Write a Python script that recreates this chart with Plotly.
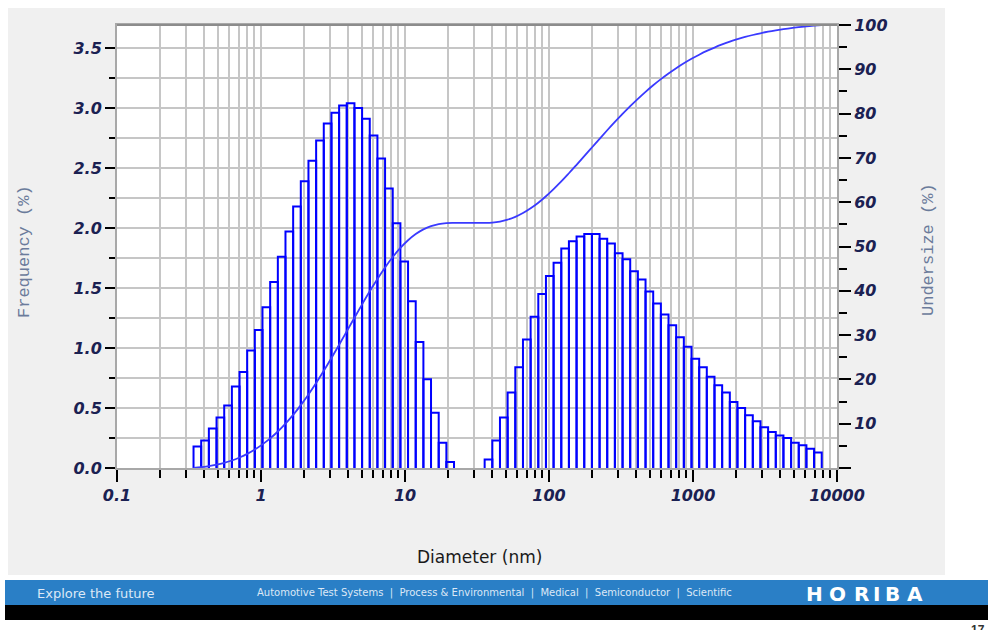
import plotly.graph_objects as go

# ---------------- data ----------------
channel_edges_nm = [
    0.340, 0.3843, 0.4345, 0.4912, 0.5553, 0.6277, 0.7096, 0.8017, 0.9062, 1.024,
    1.158, 1.309, 1.479, 1.672, 1.890, 2.136, 2.415, 2.729, 3.085, 3.487,
    3.941, 4.456, 5.035, 5.691, 6.434, 7.271, 8.219, 9.290, 10.50, 11.87,
    13.42, 15.16, 17.14, 19.38, 21.90, 24.76, 27.98, 31.62, 35.74, 40.41,
    45.66, 51.61, 58.34, 65.95, 74.55, 84.27, 95.24, 107.6, 121.7, 137.5,
    155.4, 175.7, 198.6, 224.5, 253.7, 286.8, 324.2, 366.4, 414.2, 468.2,
    529.2, 598.2, 676.1, 764.2, 863.8, 976.4, 1104, 1247, 1410, 1594,
    1802, 2036, 2301, 2602, 2941, 3324, 3757, 4246, 4800, 5425,
    6132, 6931, 7834,
]

freq_small_mode = [
    0.18, 0.23, 0.33, 0.42, 0.52, 0.68, 0.80, 0.98, 1.15, 1.34,
    1.55, 1.76, 1.97, 2.18, 2.39, 2.56, 2.73, 2.87, 2.96, 3.02,
    3.04, 3.00, 2.91, 2.77, 2.58, 2.33, 2.04, 1.72, 1.39, 1.05,
    0.74, 0.46, 0.21, 0.05,
]
freq_gap = [0.0, 0.0, 0.0, 0.0]
freq_large_mode = [
    0.07, 0.23, 0.42, 0.63, 0.84, 1.07, 1.26, 1.45, 1.60, 1.71,
    1.83, 1.89, 1.93, 1.95, 1.95, 1.91, 1.87, 1.79, 1.74, 1.64,
    1.57, 1.47, 1.37, 1.28, 1.19, 1.09, 1.01, 0.91, 0.84, 0.76,
    0.69, 0.63, 0.55, 0.50, 0.44, 0.39, 0.34, 0.30, 0.27, 0.25,
    0.21, 0.19, 0.16, 0.13,
]
frequency_pct = freq_small_mode + freq_gap + freq_large_mode

x_tick_vals = [0.1, 1, 10, 100, 1000, 10000]
x_tick_text = ["0.1", "1", "10", "100", "1000", "10000"]
y_tick_vals = [0.0, 0.5, 1.0, 1.5, 2.0, 2.5, 3.0, 3.5]
y_tick_text = ["0.0", "0.5", "1.0", "1.5", "2.0", "2.5", "3.0", "3.5"]
y2_tick_vals = [0, 10, 20, 30, 40, 50, 60, 70, 80, 90, 100]
y2_tick_text = ["", "10", "20", "30", "40", "50", "60", "70", "80", "90", "100"]

assert len(channel_edges_nm) == len(frequency_pct) + 1

# ---------------- derived ----------------
# bar outlines (each channel drawn as an open rectangle)
bx, by = [], []
for i, f in enumerate(frequency_pct):
    if f <= 0:
        continue
    lo, hi = channel_edges_nm[i], channel_edges_nm[i + 1]
    bx += [lo, lo, hi, hi, None]
    by += [0, f, f, 0, None]

# cumulative undersize curve
total = sum(frequency_pct)
ux, uy, acc = [channel_edges_nm[0]], [0.0], 0.0
for i, f in enumerate(frequency_pct):
    acc += f
    ux.append(channel_edges_nm[i + 1])
    uy.append(acc / total * 100)

# ---------------- geometry helpers (pixels -> paper) ----------------
W, H = 988, 630
L, R, T, B = 117, 837, 25, 468


def px(xp):
    return (xp - L) / (R - L)


def py(yp):
    return (B - yp) / (B - T)


x_minor = [k * 10 ** n for n in range(-1, 4) for k in range(2, 10)]
y_minor = [0.25, 0.75, 1.25, 1.75, 2.25, 2.75, 3.25]
y2_minor = [5, 15, 25, 35, 45, 55, 65, 75, 85, 95]

tick_font = dict(family="DejaVu Sans", size=16, color="#1b2152",
                 weight="bold", style="italic")
grid_col = "#c6c6c6"

fig = go.Figure()
fig.add_trace(go.Scatter(x=bx, y=by, mode="lines",
                         line=dict(color="#0000ff", width=2),
                         hoverinfo="skip", showlegend=False))
fig.add_trace(go.Scatter(x=ux, y=uy, mode="lines", yaxis="y2",
                         line=dict(color="#3a3aff", width=1.8, shape="spline", smoothing=1.0),
                         showlegend=False))

fig.update_layout(
    width=W, height=H, autosize=False,
    margin=dict(l=L, r=W - R, t=T, b=H - B),
    paper_bgcolor="white", plot_bgcolor="white",
    xaxis=dict(type="log", range=[-1, 4], tickvals=x_tick_vals, ticktext=x_tick_text,
               ticks="outside", ticklen=12, tickwidth=2, tickcolor="black",
               showgrid=True, gridcolor=grid_col, gridwidth=2,
               showline=True, linecolor="#a8a8a8", linewidth=2, mirror=True,
               tickfont=tick_font, zeroline=False,
               minor=dict(tickvals=x_minor, ticks="outside", ticklen=8, tickwidth=2,
                          tickcolor="black", showgrid=True, gridcolor=grid_col,
                          gridwidth=2)),
    yaxis=dict(range=[0, (B - T) / 120.0], tickvals=y_tick_vals, ticktext=y_tick_text,
               ticks="outside", ticklen=10, tickwidth=2, tickcolor="black",
               showgrid=True, gridcolor=grid_col, gridwidth=2,
               showline=True, linecolor="#a8a8a8", linewidth=2,
               tickfont=tick_font, zeroline=False,
               minor=dict(tickvals=y_minor, ticks="outside", ticklen=6, tickwidth=2,
                          tickcolor="black", showgrid=True, gridcolor=grid_col,
                          gridwidth=2)),
    yaxis2=dict(range=[0, 100], overlaying="y", side="right",
                tickvals=y2_tick_vals, ticktext=y2_tick_text,
                ticks="outside", ticklen=12, tickwidth=2, tickcolor="black",
                showgrid=False, showline=True, linecolor="#a8a8a8", linewidth=2,
                tickfont=tick_font, zeroline=False,
                minor=dict(tickvals=y2_minor, ticks="outside", ticklen=8, tickwidth=2,
                           tickcolor="black")),
)

shapes = [
    # grey slide panel
    dict(type="rect", xref="paper", yref="paper", x0=px(8), x1=px(945), y0=py(575), y1=py(8),
         fillcolor="#f0f0f0", line=dict(width=0), layer="below"),
    # white plotting area
    dict(type="rect", xref="paper", yref="paper", x0=0, x1=1, y0=0, y1=1,
         fillcolor="white", line=dict(width=0), layer="below"),
    # darker top border
    dict(type="line", xref="paper", yref="paper", x0=0, x1=1, y0=1, y1=1,
         line=dict(color="#8c8c8c", width=2)),
    # footer bands
    dict(type="rect", xref="paper", yref="paper", x0=px(5), x1=px(990), y0=py(605), y1=py(580),
         fillcolor="#2a7fc6", line=dict(width=0)),
    dict(type="rect", xref="paper", yref="paper", x0=px(5), x1=px(990), y0=py(620), y1=py(605),
         fillcolor="#000000", line=dict(width=0)),
]
fig.update_layout(shapes=shapes)

ann = [
    dict(text="Frequency (%)", x=px(25), y=py(252), textangle=-90,
         font=dict(family="Liberation Mono", size=17, color="#6b7b9b")),
    dict(text="Undersize (%)", x=px(928), y=py(250), textangle=-90,
         font=dict(family="Liberation Mono", size=17, color="#6b7b9b")),
    dict(text="Diameter (nm)", x=px(479), y=py(557),
         font=dict(family="DejaVu Sans", size=17, color="#1a1a1a")),
    dict(text="PI", x=px(10), y=py(6), xanchor="left", yanchor="bottom",
         font=dict(family="Liberation Sans", size=18, color="#3a8a9a")),
    dict(text=":  0.408", x=px(528), y=py(6), xanchor="left", yanchor="bottom",
         font=dict(family="Liberation Sans", size=18, color="#3a8a9a")),
    dict(text="Explore the future", x=px(35), y=py(593), xanchor="left",
         font=dict(family="DejaVu Sans", size=13, color="#dce8f6")),
    dict(text="Automotive Test Systems  |  Process & Environmental  |  Medical  |  Semiconductor  |  Scientific",
         x=px(255), y=py(593), xanchor="left",
         font=dict(family="DejaVu Sans", size=10, color="#dce8f6")),
    dict(text="17", x=px(978), y=py(621), yanchor="top",
         font=dict(family="Liberation Sans", size=12, color="#333333", weight="bold")),
]
for ch, cx in zip("HORIBA", [814, 837.5, 861, 876, 892, 915]):
    ann.append(dict(text=ch, x=px(cx), y=py(594),
                    font=dict(family="DejaVu Sans", size=20, color="white", weight="bold")))
for a in ann:
    a.setdefault("xref", "paper")
    a.setdefault("yref", "paper")
    a.setdefault("showarrow", False)
    a.setdefault("xanchor", "center")
    a.setdefault("yanchor", "middle")
fig.update_layout(annotations=ann)

fig.write_html("out.html")
